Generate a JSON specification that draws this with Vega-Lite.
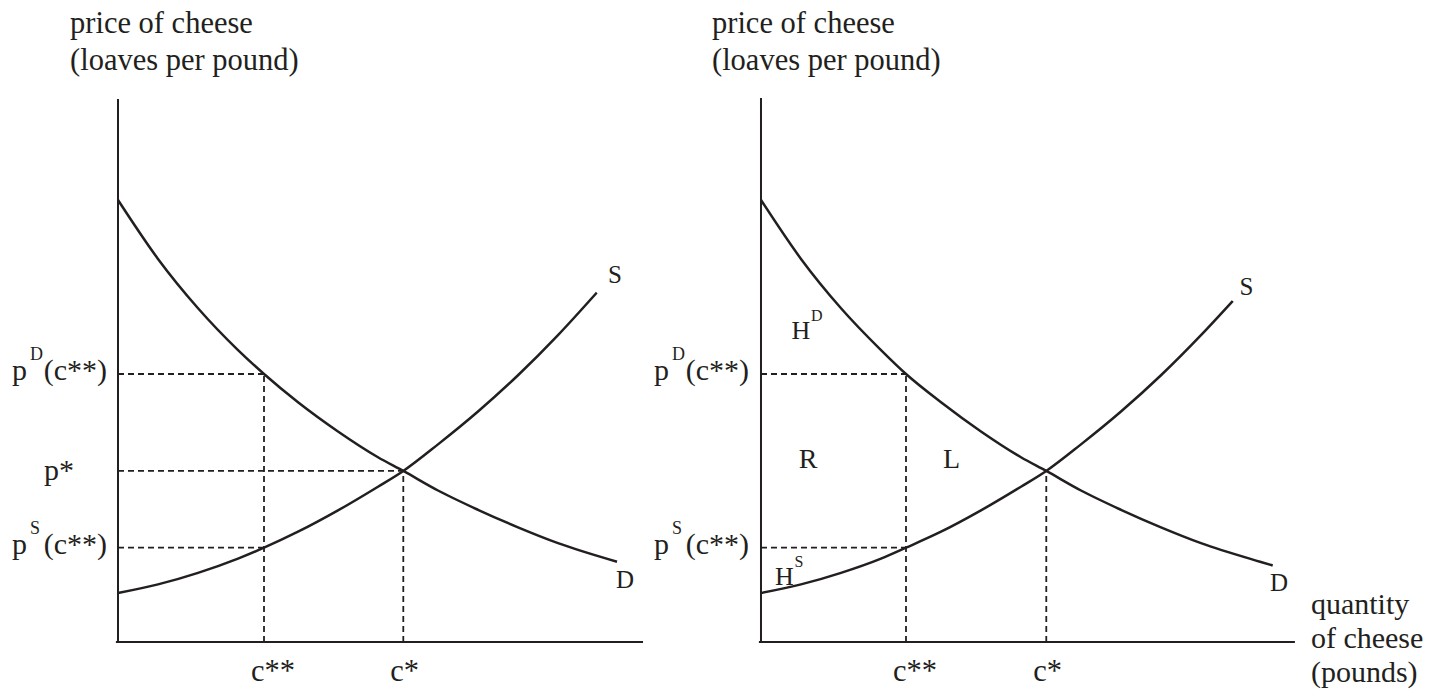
{
  "$schema": "https://vega.github.io/schema/vega-lite/v6.json",
  "width": 1430,
  "height": 691,
  "autosize": {"type": "fit", "contains": "padding"},
  "padding": 0,
  "background": "white",
  "config": {"view": {"stroke": null}, "mark": {"font": "Liberation Serif"}, "text": {"font": "Liberation Serif", "color": "#231f20"}},
  "resolve": {"scale": {"x": "independent"}},
  "layer": [
    {
      "encoding": {
        "x": {"field": "q", "type": "quantitative", "scale": {"domain": [-2.2476, 24.99], "nice": false, "zero": false}, "axis": null},
        "y": {"field": "p", "type": "quantitative", "scale": {"domain": [-0.902, 11.823], "nice": false, "zero": false}, "axis": null}
      },
      "layer": [
        {
          "data": {"values": [{"q": 0, "q2": 0, "p": 0, "p2": 10.0}, {"q": -0.04, "q2": 10.0, "p": 0, "p2": 0}]},
          "mark": {"type": "rule", "stroke": "#231f20", "strokeWidth": 2},
          "encoding": {"x2": {"field": "q2"}, "y2": {"field": "p2"}}
        },
        {
          "data": {"values": [
            {"q": 0, "q2": 2.781, "p": 4.936, "p2": 4.936},
            {"q": 0, "q2": 5.434, "p": 3.15, "p2": 3.15},
            {"q": 0, "q2": 2.781, "p": 1.737, "p2": 1.737},
            {"q": 2.781, "q2": 2.781, "p": 0, "p2": 4.936},
            {"q": 5.434, "q2": 5.434, "p": 0, "p2": 3.15}
          ]},
          "mark": {"type": "rule", "stroke": "#231f20", "strokeWidth": 1.8, "strokeDash": [6, 4]},
          "encoding": {"x2": {"field": "q2"}, "y2": {"field": "p2"}}
        },
        {
          "data": {"values": [
            {"q": 0, "p": 8.14}, {"q": 0.762, "p": 7.055}, {"q": 1.524, "p": 6.147}, {"q": 2.286, "p": 5.376},
            {"q": 2.781, "p": 4.936}, {"q": 3.429, "p": 4.416}, {"q": 4.19, "p": 3.878}, {"q": 4.952, "p": 3.403},
            {"q": 5.434, "p": 3.15}, {"q": 6.095, "p": 2.79}, {"q": 6.857, "p": 2.435}, {"q": 7.619, "p": 2.112},
            {"q": 8.381, "p": 1.821}, {"q": 9.505, "p": 1.479}
          ]},
          "mark": {"type": "line", "stroke": "#231f20", "strokeWidth": 2.5, "interpolate": "monotone"},
          "encoding": {"order": {"field": "q", "type": "quantitative"}}
        },
        {
          "data": {"values": [
            {"q": 0, "p": 0.902}, {"q": 0.762, "p": 1.061}, {"q": 1.524, "p": 1.274}, {"q": 2.286, "p": 1.536},
            {"q": 2.781, "p": 1.737}, {"q": 3.429, "p": 2.031}, {"q": 4.19, "p": 2.424}, {"q": 4.952, "p": 2.86},
            {"q": 5.434, "p": 3.15}, {"q": 6.095, "p": 3.64}, {"q": 6.857, "p": 4.245}, {"q": 7.619, "p": 4.913},
            {"q": 8.381, "p": 5.652}, {"q": 9.118, "p": 6.433}
          ]},
          "mark": {"type": "line", "stroke": "#231f20", "strokeWidth": 2.5, "interpolate": "monotone"},
          "encoding": {"order": {"field": "q", "type": "quantitative"}}
        },
        {
          "data": {"values": [{"q": 0, "p": 10.0}]},
          "mark": {"type": "text", "font": "Liberation Serif", "text": ["price of cheese", "(loaves per pound)"], "align": "left", "baseline": "alphabetic", "dx": -48, "dy": -66, "fontSize": 30.5, "lineHeight": 37}
        },
        {
          "data": {"values": [{"q": 9.467, "p": 6.75, "label": "S"}, {"q": 9.657, "p": 1.142, "label": "D"}]},
          "mark": {"type": "text", "font": "Liberation Serif", "align": "center", "baseline": "middle", "fontSize": 25},
          "encoding": {"text": {"field": "label"}}
        },
        {
          "data": {"values": [{"q": 2.781, "p": 0, "label": "c**"}, {"q": 5.434, "p": 0, "label": "c*"}]},
          "mark": {"type": "text", "font": "Liberation Serif", "align": "left", "baseline": "alphabetic", "dx": -13, "dy": 39, "fontSize": 30.5},
          "encoding": {"text": {"field": "label"}}
        },
        {
          "data": {"values": [{"q": 0, "p": 4.936, "main": "(c**)", "sup": "D"}, {"q": 0, "p": 1.737, "main": "(c**)", "sup": "S"}]},
          "layer": [
            {"mark": {"type": "text", "font": "Liberation Serif", "align": "right", "baseline": "alphabetic", "dx": -11, "dy": 6, "fontSize": 30}, "encoding": {"text": {"field": "main"}}},
            {"mark": {"type": "text", "font": "Liberation Serif", "align": "right", "baseline": "alphabetic", "dx": -91, "dy": 6, "fontSize": 30, "text": "p"}},
            {"mark": {"type": "text", "font": "Liberation Serif", "align": "left", "baseline": "alphabetic", "dx": -88, "dy": -14, "fontSize": 18}, "encoding": {"text": {"field": "sup"}}}
          ]
        },
        {
          "data": {"values": [{"q": 0, "p": 3.15, "label": "p*"}]},
          "mark": {"type": "text", "font": "Liberation Serif", "align": "center", "baseline": "alphabetic", "dx": -59, "dy": 9, "fontSize": 30},
          "encoding": {"text": {"field": "label"}}
        }
      ]
    },
    {
      "encoding": {
        "x": {"field": "q", "type": "quantitative", "scale": {"domain": [-14.495, 12.743], "nice": false, "zero": false}, "axis": null},
        "y": {"field": "p", "type": "quantitative", "scale": {"domain": [-0.902, 11.823], "nice": false, "zero": false}, "axis": null}
      },
      "layer": [
        {
          "data": {"values": [{"q": 0, "q2": 0, "p": 0, "p2": 10.02}, {"q": -0.04, "q2": 10.17, "p": 0, "p2": 0}]},
          "mark": {"type": "rule", "stroke": "#231f20", "strokeWidth": 2},
          "encoding": {"x2": {"field": "q2"}, "y2": {"field": "p2"}}
        },
        {
          "data": {"values": [
            {"q": 0, "q2": 2.762, "p": 4.936, "p2": 4.936},
            {"q": 0, "q2": 2.762, "p": 1.737, "p2": 1.737},
            {"q": 2.762, "q2": 2.762, "p": 0, "p2": 4.936},
            {"q": 5.434, "q2": 5.434, "p": 0, "p2": 3.15}
          ]},
          "mark": {"type": "rule", "stroke": "#231f20", "strokeWidth": 1.8, "strokeDash": [6, 4]},
          "encoding": {"x2": {"field": "q2"}, "y2": {"field": "p2"}}
        },
        {
          "data": {"values": [
            {"q": 0, "p": 8.14}, {"q": 0.762, "p": 7.055}, {"q": 1.524, "p": 6.147}, {"q": 2.286, "p": 5.376},
            {"q": 2.762, "p": 4.936}, {"q": 3.429, "p": 4.416}, {"q": 4.19, "p": 3.878}, {"q": 4.952, "p": 3.403},
            {"q": 5.434, "p": 3.15}, {"q": 6.095, "p": 2.79}, {"q": 6.857, "p": 2.435}, {"q": 7.619, "p": 2.112},
            {"q": 8.381, "p": 1.821}, {"q": 9.505, "p": 1.479}, {"q": 9.747, "p": 1.41}
          ]},
          "mark": {"type": "line", "stroke": "#231f20", "strokeWidth": 2.5, "interpolate": "monotone"},
          "encoding": {"order": {"field": "q", "type": "quantitative"}}
        },
        {
          "data": {"values": [
            {"q": 0, "p": 0.902}, {"q": 0.762, "p": 1.061}, {"q": 1.524, "p": 1.274}, {"q": 2.286, "p": 1.536},
            {"q": 2.762, "p": 1.737}, {"q": 3.429, "p": 2.031}, {"q": 4.19, "p": 2.424}, {"q": 4.952, "p": 2.86},
            {"q": 5.434, "p": 3.15}, {"q": 6.095, "p": 3.64}, {"q": 6.857, "p": 4.245}, {"q": 7.619, "p": 4.913},
            {"q": 8.381, "p": 5.652}, {"q": 8.985, "p": 6.28}
          ]},
          "mark": {"type": "line", "stroke": "#231f20", "strokeWidth": 2.5, "interpolate": "monotone"},
          "encoding": {"order": {"field": "q", "type": "quantitative"}}
        },
        {
          "data": {"values": [{"q": 0, "p": 10.0}]},
          "mark": {"type": "text", "font": "Liberation Serif", "text": ["price of cheese", "(loaves per pound)"], "align": "left", "baseline": "alphabetic", "dx": -49, "dy": -66, "fontSize": 30.5, "lineHeight": 37}
        },
        {
          "data": {"values": [{"q": 10.17, "p": 0}]},
          "mark": {"type": "text", "font": "Liberation Serif", "text": ["quantity", "of cheese", "(pounds)"], "align": "left", "baseline": "alphabetic", "dx": 16, "dy": -28, "fontSize": 30, "lineHeight": 34}
        },
        {
          "data": {"values": [{"q": 9.248, "p": 6.547, "label": "S"}, {"q": 9.867, "p": 1.096, "label": "D"}]},
          "mark": {"type": "text", "font": "Liberation Serif", "align": "center", "baseline": "middle", "fontSize": 25},
          "encoding": {"text": {"field": "label"}}
        },
        {
          "data": {"values": [{"q": 2.762, "p": 0, "label": "c**"}, {"q": 5.434, "p": 0, "label": "c*"}]},
          "mark": {"type": "text", "font": "Liberation Serif", "align": "left", "baseline": "alphabetic", "dx": -13, "dy": 39, "fontSize": 30.5},
          "encoding": {"text": {"field": "label"}}
        },
        {
          "data": {"values": [{"q": 0, "p": 4.936, "main": "(c**)", "sup": "D"}, {"q": 0, "p": 1.737, "main": "(c**)", "sup": "S"}]},
          "layer": [
            {"mark": {"type": "text", "font": "Liberation Serif", "align": "right", "baseline": "alphabetic", "dx": -12, "dy": 6, "fontSize": 30}, "encoding": {"text": {"field": "main"}}},
            {"mark": {"type": "text", "font": "Liberation Serif", "align": "right", "baseline": "alphabetic", "dx": -92, "dy": 6, "fontSize": 30, "text": "p"}},
            {"mark": {"type": "text", "font": "Liberation Serif", "align": "left", "baseline": "alphabetic", "dx": -89, "dy": -14, "fontSize": 18}, "encoding": {"text": {"field": "sup"}}}
          ]
        },
        {
          "data": {"values": [{"q": 0.762, "p": 5.727, "sup": "D"}, {"q": 0.448, "p": 1.197, "sup": "S"}]},
          "layer": [
            {"mark": {"type": "text", "font": "Liberation Serif", "align": "center", "baseline": "middle", "fontSize": 26, "text": "H"}},
            {"mark": {"type": "text", "font": "Liberation Serif", "align": "left", "baseline": "middle", "dx": 10, "dy": -15, "fontSize": 16}, "encoding": {"text": {"field": "sup"}}}
          ]
        },
        {
          "data": {"values": [{"q": 0.895, "p": 3.352, "label": "R"}, {"q": 3.629, "p": 3.352, "label": "L"}]},
          "mark": {"type": "text", "font": "Liberation Serif", "align": "center", "baseline": "middle", "fontSize": 28},
          "encoding": {"text": {"field": "label"}}
        }
      ]
    }
  ]
}
